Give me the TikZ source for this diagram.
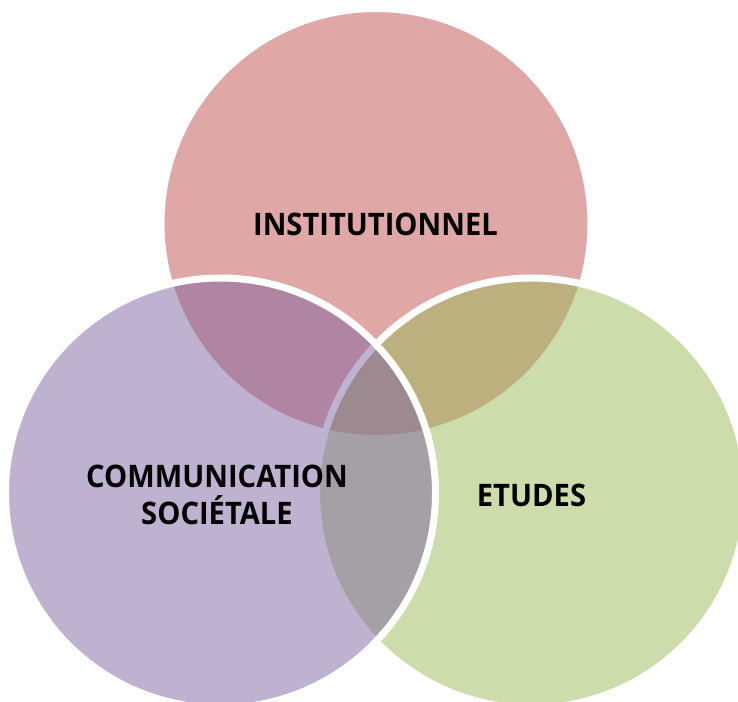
\documentclass[tikz,border=0pt]{standalone}
\usepackage{fontspec}
\setmainfont{Open Sans}[FakeStretch=0.94]
\definecolor{cred}{HTML}{C0504D}
\definecolor{cpurple}{HTML}{8064A2}
\definecolor{cgreen}{HTML}{9BBB59}
\tikzset{
  venn/.style={fill opacity=0.5, draw=white, draw opacity=1, line width=7pt},
  lbl/.style={anchor=base, inner sep=0pt, font=\bfseries\fontsize{31}{37}\selectfont, text=black, align=center}
}
\begin{document}
\begin{tikzpicture}[x=1pt,y=-1pt]
\useasboundingbox (0,0) rectangle (738,701);
\clip (0,0) rectangle (738,701);
\fill[white] (0,0) rectangle (738,701);
\path[venn, fill=cred] (376,223.5) circle[radius=215];
\path[venn, fill=cgreen] (531.5,493) circle[radius=215];
\path[venn, fill=cpurple] (220.5,493) circle[radius=215];
\node[lbl] (inst) at (375.5,235) {INSTITUTIONNEL};
\node[lbl] (comm) at (217,524) {COMMUNICATION\\SOCIÉTALE};
\node[lbl] (etud) at (531.5,506) {ETUDES};
\end{tikzpicture}
\end{document}
